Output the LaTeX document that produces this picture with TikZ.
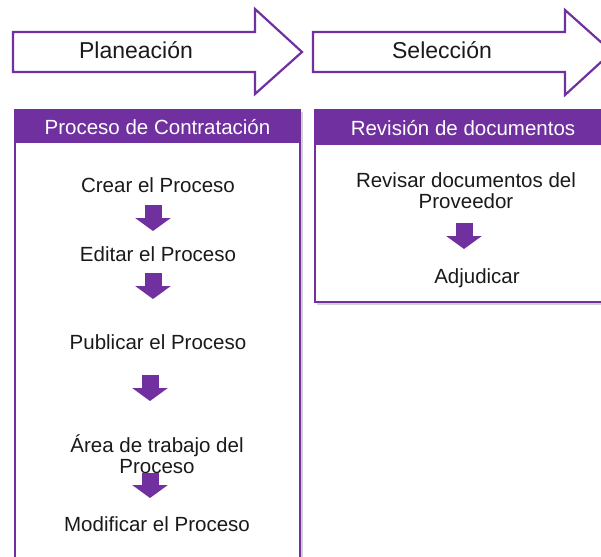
\documentclass[tikz,border=0pt]{standalone}
\usepackage{fontspec}
\setmainfont{Liberation Sans}
\usetikzlibrary{arrows.meta}
\definecolor{vio}{HTML}{7030A0}
\definecolor{ink}{HTML}{1A1A1A}
\begin{document}
\begin{tikzpicture}[x=1pt,y=-1pt,
  phase/.style={draw=vio,line width=2.2pt,fill=white,line join=miter},
  frame/.style={draw=vio,line width=2pt,fill=white},
  head/.style={fill=vio},
  shadowbox/.style={fill=black!18},
  title/.style={font=\fontsize{23}{26}\selectfont,text=ink},
  htext/.style={font=\fontsize{20.5}{24}\selectfont,text=white},
  item/.style={font=\fontsize{20.5}{21}\selectfont,text=ink,align=center},
  blockarr/.style={draw=vio,line width=17pt,-{Triangle[width=35pt,length=13pt]},shorten >=0pt}
]
\useasboundingbox (0,0) rectangle (601,556);
\clip (0,0) rectangle (601,556);
% top phase arrows
\draw[phase] (13,32) -- (255,32) -- (255,9) -- (302,52) -- (255,94) -- (255,72) -- (13,72) -- cycle;
\node[title] (plan) at (136,50) {Planeación};
\draw[phase] (313,32) -- (565,32) -- (565,10) -- (612,52) -- (565,95) -- (565,72) -- (313,72) -- cycle;
\node[title] (sel) at (442,50) {Selección};
% left box
\fill[shadowbox] (17,112) rectangle (303,600);
\draw[frame] (15,110) rectangle (300,600);
\fill[head] (15,110) rectangle (300,143);
\node[htext] (h1) at (157.5,127) {Proceso de Contratación};
% right box
\fill[shadowbox] (317,112) rectangle (622,305);
\draw[frame] (315,110) rectangle (620,302);
\fill[head] (315,110) rectangle (620,145);
\node[htext] (h2) at (463,128) {Revisión de documentos};
% left items
\node[item] (c1) at (158,185) {Crear el Proceso};
\node[item] (c2) at (158,254) {Editar el Proceso};
\node[item] (c3) at (158,342) {Publicar el Proceso};
\node[item] (c4) at (157,454) {Área de trabajo del\\Proceso};
\node[item] (c5) at (157,524) {Modificar el Proceso};
\coordinate (a1s) at (153,205); \coordinate (a1e) at (153,231);
\coordinate (a2s) at (153,273); \coordinate (a2e) at (153,299);
\coordinate (a3s) at (150,375); \coordinate (a3e) at (150,401);
\coordinate (a4s) at (150,473); \coordinate (a4e) at (150,498);
\draw[blockarr] (a1s) -- (a1e);
\draw[blockarr] (a2s) -- (a2e);
\draw[blockarr] (a3s) -- (a3e);
\draw[blockarr] (a4s) -- (a4e);
% right items
\node[item] (r1) at (466,191) {Revisar documentos del\\Proveedor};
\node[item] (r2) at (477,278) {Adjudicar};
\coordinate (b1s) at (464,223); \coordinate (b1e) at (464,249);
\draw[blockarr] (b1s) -- (b1e);
\end{tikzpicture}
\end{document}
